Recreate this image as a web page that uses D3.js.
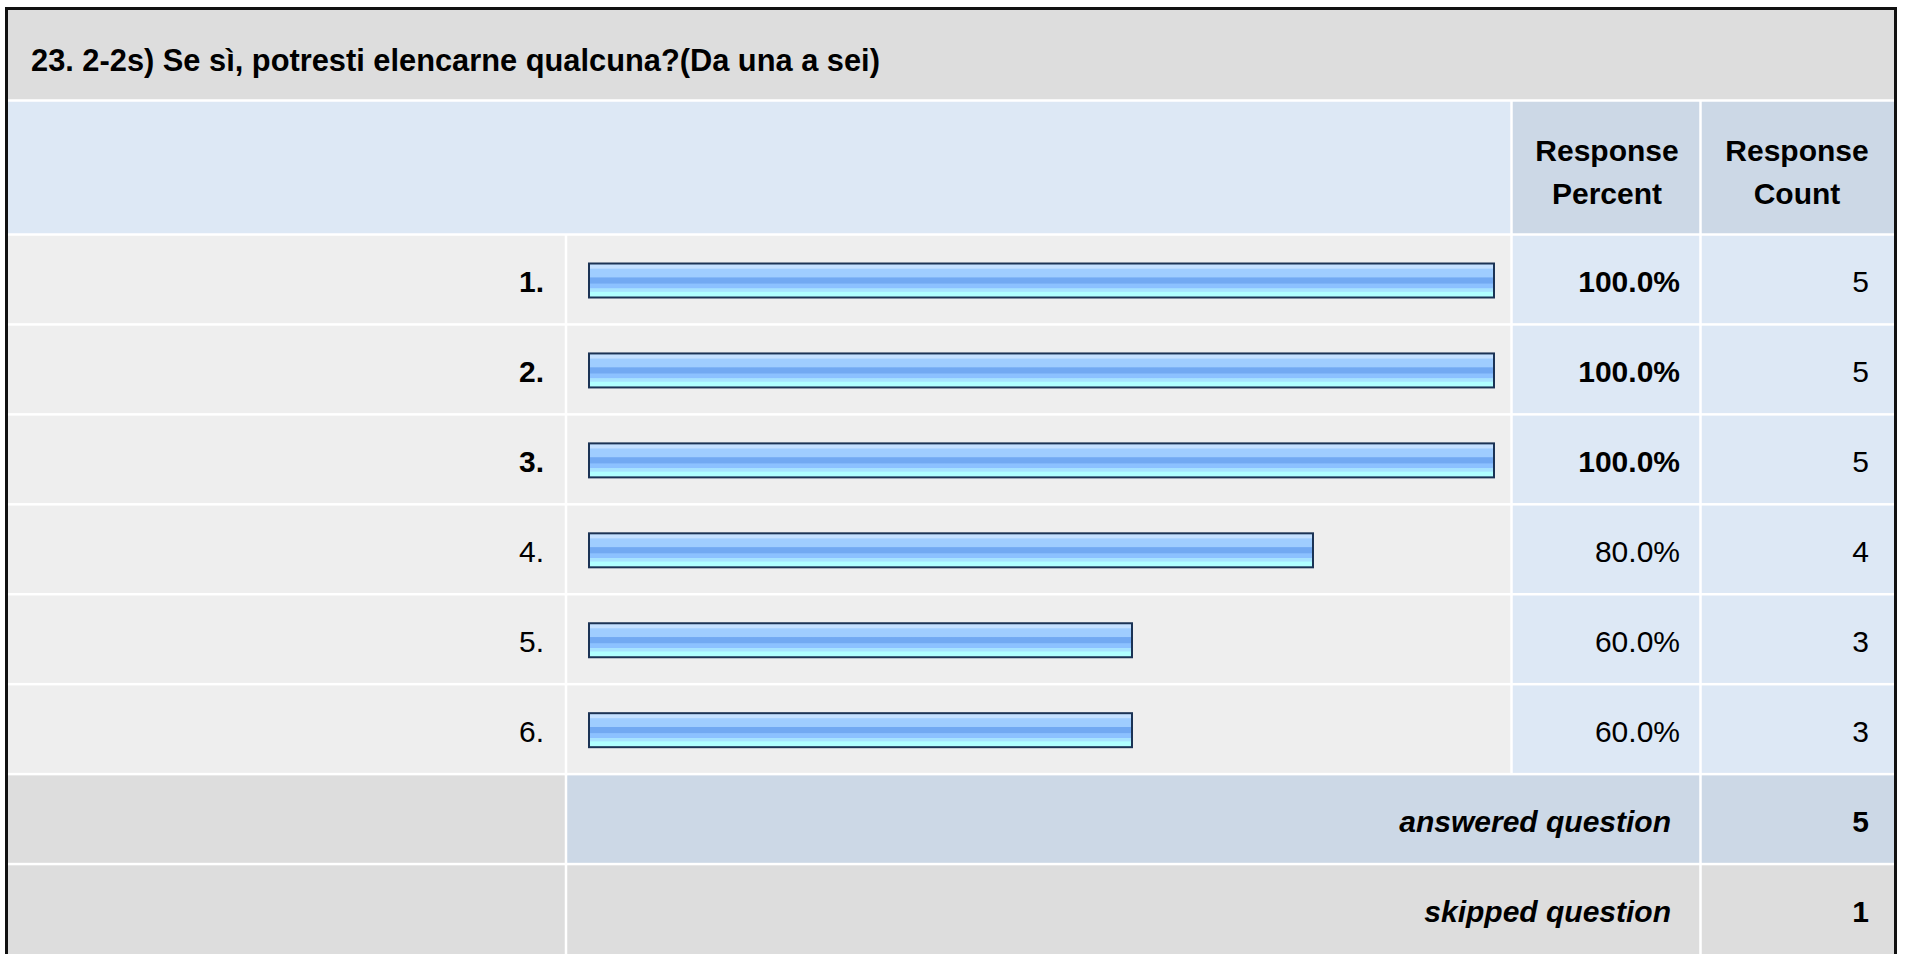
<!DOCTYPE html>
<html>
<head>
<meta charset="utf-8">
<script src="https://cdn.jsdelivr.net/npm/d3@7"></script>
<style>
  html, body { margin: 0; padding: 0; background: #fff; }
  svg { display: block; font-family: "Liberation Sans", Arial, sans-serif; }
</style>
</head>
<body>
<svg width="1907" height="954"></svg>
<script>
// question + answer data
var title = "23. 2-2s) Se sì, potresti elencarne qualcuna?(Da una a sei)";
var choices = ["1.", "2.", "3.", "4.", "5.", "6."];
var percents = [100, 100, 100, 80, 60, 60];
var counts = [5, 5, 5, 4, 3, 3];
var headers = [["Response", "Percent"], ["Response", "Count"]];
var summaryLabels = ["answered question", "skipped question"];
var summaryValues = [5, 1];

var svg = d3.select("svg"),
    frameL = 8, frameR = 1894, frameT = 10,
    colLabel = 566, colPct = 1511.5, colCnt = 1700.5,
    gap = 1.25,
    fs = 30;

var maxPct = d3.max(percents);
var rows = choices.map(function(c, i) {
  return {label: c, pct: percents[i], count: counts[i], top: percents[i] === maxPct};
});

// band for the 6 answer rows + 2 summary rows
var y = d3.scaleBand()
    .domain(d3.range(choices.length + summaryLabels.length))
    .range([234.5, 954])
    .padding(0);

var x = d3.scaleLinear().domain([0, 100]).range([589, 1494]);

// gradient for the bars
var defs = svg.append("defs");
var grad = defs.append("linearGradient")
    .attr("id", "barGrad")
    .attr("x1", 0).attr("y1", 0).attr("x2", 0).attr("y2", 1);
[[0, "#c4e0ff"], [0.14, "#c4e0ff"], [0.16, "#9fcdff"], [0.4, "#9fcdff"], [0.42, "#72a9f2"],
 [0.58, "#72a9f2"], [0.6, "#8cc1ff"], [0.72, "#8cc1ff"], [0.74, "#a7e3ff"], [0.82, "#a7e3ff"],
 [0.84, "#b0ffff"], [1, "#b0ffff"]].forEach(function(s) {
  grad.append("stop").attr("offset", s[0]).attr("stop-color", s[1]);
});

function cell(x0, x1, y0, y1, fill) {
  svg.append("rect")
      .attr("x", x0 + gap).attr("y", y0 + gap)
      .attr("width", x1 - x0 - 2 * gap).attr("height", y1 - y0 - 2 * gap)
      .attr("fill", fill);
}

// white background
svg.append("rect").attr("width", 1907).attr("height", 954).attr("fill", "#fff");

// title row
cell(frameL - gap, frameR + gap, frameT - gap, 100.5, "#dddddd");
svg.append("text")
    .attr("x", 31).attr("y", 71)
    .style("font-size", "30.8px").style("font-weight", "bold")
    .text(title);

// header row
cell(frameL - gap, colPct, 100.5, 234.5, "#dde8f5");
cell(colPct, colCnt, 100.5, 234.5, "#ccd8e6");
cell(colCnt, frameR + gap, 100.5, 234.5, "#ccd8e6");
headers.forEach(function(h, i) {
  var cx = i === 0 ? 1607 : 1797;
  h.forEach(function(line, j) {
    svg.append("text")
        .attr("x", cx).attr("y", 161 + j * 43)
        .attr("text-anchor", "middle")
        .style("font-size", fs + "px").style("font-weight", "bold")
        .text(line);
  });
});

// answer rows
var row = svg.selectAll(".row")
  .data(rows)
  .enter().append("g")
    .attr("class", "row")
    .attr("transform", function(d, i) { return "translate(0," + y(i) + ")"; });

var bh = y.bandwidth();
row.append("rect")
    .attr("x", frameL).attr("y", gap)
    .attr("width", colLabel - frameL - gap).attr("height", bh - 2 * gap)
    .attr("fill", "#eeeeee");
row.append("rect")
    .attr("x", colLabel + gap).attr("y", gap)
    .attr("width", colPct - colLabel - 2 * gap).attr("height", bh - 2 * gap)
    .attr("fill", "#eeeeee");
row.append("rect")
    .attr("x", colPct + gap).attr("y", gap)
    .attr("width", colCnt - colPct - 2 * gap).attr("height", bh - 2 * gap)
    .attr("fill", "#dde8f5");
row.append("rect")
    .attr("x", colCnt + gap).attr("y", gap)
    .attr("width", frameR - colCnt - gap).attr("height", bh - 2 * gap)
    .attr("fill", "#dde8f5");

row.append("rect")
    .attr("x", x(0)).attr("y", 29)
    .attr("width", function(d) { return x(d.pct) - x(0); })
    .attr("height", 34)
    .attr("fill", "url(#barGrad)")
    .attr("stroke", "#1b3355")
    .attr("stroke-width", 2);

row.append("text")
    .attr("x", 544).attr("y", bh / 2 + 13)
    .attr("text-anchor", "end")
    .style("font-size", fs + "px")
    .style("font-weight", function(d) { return d.top ? "bold" : "normal"; })
    .text(function(d) { return d.label; });

row.append("text")
    .attr("x", 1680).attr("y", bh / 2 + 13)
    .attr("text-anchor", "end")
    .style("font-size", fs + "px")
    .style("font-weight", function(d) { return d.top ? "bold" : "normal"; })
    .text(function(d) { return d.pct.toFixed(1) + "%"; });

row.append("text")
    .attr("x", 1869).attr("y", bh / 2 + 13)
    .attr("text-anchor", "end")
    .style("font-size", fs + "px")
    .text(function(d) { return d.count; });

// summary rows
summaryLabels.forEach(function(lbl, i) {
  var y0 = y(choices.length + i), y1 = y0 + bh + (i === 1 ? 10 : 0);
  var mid = i === 0 ? "#ccd8e6" : "#dddddd";
  cell(frameL - gap, colLabel, y0, y1, "#dddddd");
  cell(colLabel, colCnt, y0, y1, mid);
  cell(colCnt, frameR + gap, y0, y1, mid);
  svg.append("text")
      .attr("x", 1671).attr("y", y0 + bh / 2 + 13)
      .attr("text-anchor", "end")
      .style("font-size", fs + "px").style("font-weight", "bold").style("font-style", "italic")
      .text(lbl);
  svg.append("text")
      .attr("x", 1869).attr("y", y0 + bh / 2 + 13)
      .attr("text-anchor", "end")
      .style("font-size", fs + "px").style("font-weight", "bold")
      .text(summaryValues[i]);
});

// outer frame
svg.append("path")
    .attr("d", "M6.5,960V8.5H1895.5V960")
    .attr("fill", "none")
    .attr("stroke", "#111")
    .attr("stroke-width", 3);
</script>
</body>
</html>
